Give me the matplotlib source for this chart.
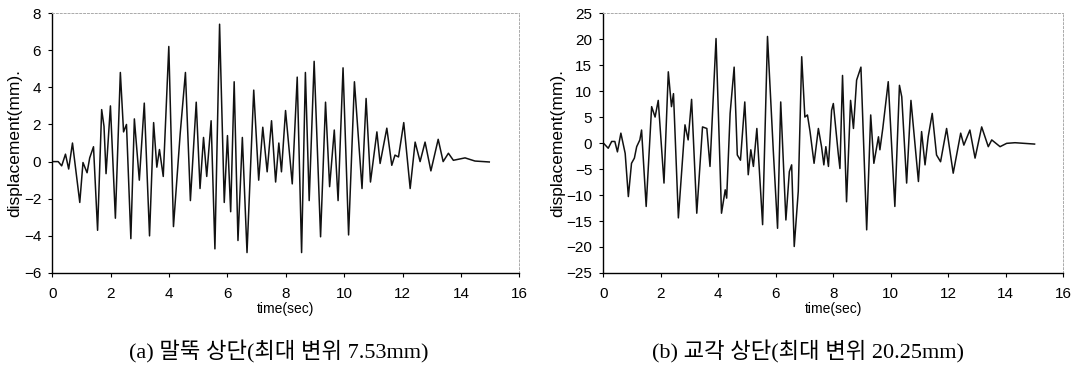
import matplotlib
matplotlib.use("Agg")
import matplotlib.pyplot as plt

# (a) pile top displacement, peaks/troughs
t_a = [0.0, 0.2, 0.32, 0.45, 0.56, 0.69, 0.94, 1.05, 1.19, 1.28, 1.41, 1.55, 1.69, 1.77, 1.84,
       1.99, 2.16, 2.33, 2.44, 2.54, 2.69, 2.81, 2.98, 3.15, 3.33, 3.47, 3.58, 3.67, 3.80, 3.99,
       4.15, 4.38, 4.56, 4.73, 4.93, 5.06, 5.18, 5.29, 5.44, 5.57, 5.73, 5.89, 6.00, 6.11, 6.23,
       6.36, 6.51, 6.67, 6.90, 7.07, 7.21, 7.36, 7.51, 7.65, 7.76, 7.85, 7.99, 8.22, 8.39, 8.54,
       8.67, 8.80, 8.97, 9.19, 9.36, 9.50, 9.66, 9.79, 9.96, 10.15, 10.35, 10.61, 10.75, 10.90,
       11.12, 11.23, 11.46, 11.63, 11.74, 11.86, 12.04, 12.26, 12.43, 12.60, 12.77, 12.97, 13.22,
       13.39, 13.57, 13.74, 14.14, 14.48, 14.97]
d_a = [0.0, 0.0, -0.23, 0.4, -0.4, 1.0, -2.2, -0.05, -0.6, 0.2, 0.8, -3.7, 2.8, 1.9, -0.65,
       3.0, -3.05, 4.8, 1.6, 2.0, -4.15, 2.3, -1.0, 3.15, -4.0, 2.1, -0.3, 0.65, -0.8, 6.2,
       -3.5, 1.5, 4.8, -2.1, 3.2, -1.45, 1.3, -0.8, 2.2, -4.7, 7.4, -2.2, 1.4, -2.7, 4.3,
       -4.25, 1.3, -4.9, 3.85, -1.0, 1.85, -0.55, 2.2, -1.1, 1.0, -0.55, 2.75, -1.2, 4.55, -4.9,
       4.8, -2.1, 5.4, -4.05, 3.2, -1.35, 1.7, -2.1, 5.05, -3.95, 4.3, -1.45, 3.4, -1.1,
       1.6, -0.1, 1.8, -0.2, 0.35, 0.25, 2.1, -1.45, 1.05, 0.0, 1.05, -0.5, 1.2,
       0.0, 0.45, 0.07, 0.2, 0.03, -0.02]

# (b) abutment top displacement
t_b = [0.0, 0.17, 0.29, 0.40, 0.49, 0.61, 0.76, 0.87, 0.98, 1.08, 1.16, 1.27, 1.33, 1.49, 1.68,
       1.80, 1.91, 2.11, 2.26, 2.37, 2.44, 2.61, 2.84, 2.95, 3.07, 3.25, 3.45, 3.60, 3.71, 3.92,
       4.11, 4.24, 4.29, 4.41, 4.55, 4.66, 4.77, 4.92, 5.04, 5.13, 5.22, 5.34, 5.54, 5.71, 5.91,
       6.06, 6.17, 6.35, 6.47, 6.55, 6.64, 6.78, 6.90, 7.01, 7.10, 7.19, 7.33, 7.48, 7.59, 7.67,
       7.74, 7.83, 7.94, 8.00, 8.17, 8.23, 8.32, 8.46, 8.60, 8.70, 8.81, 8.96, 9.16, 9.30, 9.41,
       9.57, 9.62, 9.72, 9.91, 10.14, 10.30, 10.38, 10.55, 10.70, 10.96, 11.07, 11.19, 11.30,
       11.44, 11.59, 11.73, 11.94, 12.17, 12.43, 12.54, 12.75, 12.93, 13.16, 13.39, 13.51,
       13.80, 14.03, 14.32, 15.0]
d_b = [0.0, -1.0, 0.3, 0.3, -1.7, 1.9, -2.0, -10.3, -3.9, -2.9, -0.7, 0.6, 2.5, -12.2, 7.0,
       5.0, 8.2, -7.7, 13.7, 7.0, 9.5, -14.4, 3.5, 0.6, 8.4, -13.5, 3.1, 2.8, -4.5, 20.1,
       -13.5, -9.0, -10.6, 5.7, 14.6, -2.3, -3.3, 7.9, -6.1, -1.3, -4.5, 2.8, -15.7, 20.5, -1.3,
       -16.4, 7.9, -14.8, -5.5, -4.2, -19.9, -9.3, 16.6, 5.0, 5.4, 2.2, -3.9, 2.8, -0.7, -4.2,
       -0.7, -4.5, 6.3, 7.6, -2.0, -4.9, 13.0, -11.3, 8.2, 2.8, 12.1, 14.6, -16.7, 5.4, -3.9,
       1.2, -1.3, 2.8, 11.8, -12.2, 11.1, 8.9, -7.7, 8.2, -7.4, 2.2, -4.2, 1.2,
       5.7, -2.3, -3.6, 2.8, -5.8, 1.9, -0.4, 2.5, -2.9, 3.1, -0.7, 0.6,
       -0.7, -0.06, 0.06, -0.2]

xticks = list(range(0, 17, 2))
yticks_a = list(range(-6, 9, 2))
yticks_b = list(range(-25, 26, 5))
captions = ["(a) 말뚝 상단(최대 변위 7.53mm)", "(b) 교각 상단(최대 변위 20.25mm)"]

fig = plt.figure(figsize=(10.77, 3.8), dpi=100)
ax_a = fig.add_axes([0.0486, 0.2816, 0.4336, 0.684])
ax_b = fig.add_axes([0.5602, 0.2816, 0.4271, 0.684])

panels = [(ax_a, t_a, d_a, yticks_a), (ax_b, t_b, d_b, yticks_b)]
for ax, t, d, yt in panels:
    ax.plot(t, d, color="#111111", lw=1.1)
    ax.set_xlim(0, 16)
    ax.set_ylim(yt[0], yt[-1])
    ax.set_xticks(xticks)
    ax.set_yticks(yt)
    ax.tick_params(direction="out", length=3, width=0.8, labelsize=11, pad=7)
    ax.tick_params(axis="y", pad=5)
    for lab in ax.get_xticklabels() + ax.get_yticklabels():
        lab.set_family("Liberation Sans")
    for s in ["top", "right"]:
        ax.spines[s].set_color("#aaaaaa")
        ax.spines[s].set_linestyle((0, (2, 2)))
        ax.spines[s].set_linewidth(0.7)
    for s in ["left", "bottom"]:
        ax.spines[s].set_linewidth(1.0)
    ax.set_ylabel("displacement(mm).", family="Liberation Sans", fontsize=12.5, labelpad=1)
    ax.set_xlabel("time(sec)", family="Liberation Sans", fontsize=10, labelpad=1)

fig.text(0.259, 0.073, captions[0], ha="center", va="center", fontsize=16,
         family=["Liberation Serif", "Noto Sans CJK KR"])
fig.text(0.750, 0.073, captions[1], ha="center", va="center", fontsize=16,
         family=["Liberation Serif", "Noto Sans CJK KR"])

fig.savefig("out.png", dpi=100)
